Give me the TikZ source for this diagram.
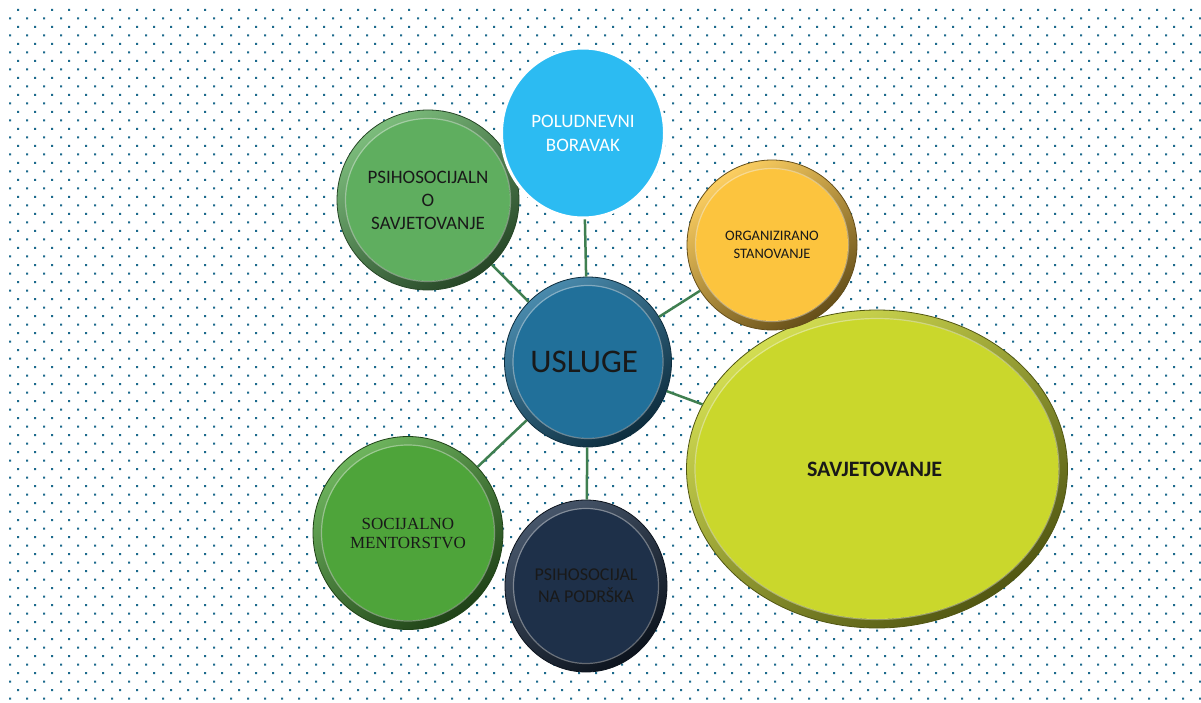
\documentclass[tikz,border=0pt]{standalone}
\usepackage{fontspec}
\setmainfont{Carlito}
\newfontfamily\serifface{Liberation Serif}
\usetikzlibrary{shapes.geometric,calc}

\definecolor{dotteal}{HTML}{1C6A8C}
\definecolor{linkgreen}{HTML}{3F7F50}
\definecolor{savjgreen}{HTML}{5FAE5F}
\definecolor{boravakblue}{HTML}{2CBBF2}
\definecolor{stangold}{HTML}{FCC43E}
\definecolor{uslugeblue}{HTML}{21709A}
\definecolor{savjlime}{HTML}{CAD72C}
\definecolor{mentorgreen}{HTML}{4EA43A}
\definecolor{podrskanavy}{HTML}{1E3049}

\tikzset{
  bubble/.style={ellipse, inner sep=0pt, align=center, text=black!90,
    top color=#1!82!white, bottom color=#1!40!black, shading angle=35,
    draw=#1!40!black, line width=0.8pt,
    path picture={
      \fill[#1] let \p1=(path picture bounding box.north east), \p2=(path picture bounding box.center)
        in (\p2) ellipse ({\x1-\x2-9pt} and {\y1-\y2-9pt});
      \draw[white, opacity=.35, line width=1.2pt] let \p1=(path picture bounding box.north east), \p2=(path picture bounding box.center)
        in (\p2) ellipse ({\x1-\x2-8.5pt} and {\y1-\y2-8.5pt});
    }},
  flatbubble/.style={ellipse, inner sep=0pt, align=center, text=white,
    fill=#1, draw=white, line width=3pt},
  link/.style={draw=linkgreen, line width=2.5pt}
}

\begin{document}
\begin{tikzpicture}[x=1pt, y=-1pt]
            \fill[white] (0, 0) rectangle (1201, 703);
            \useasboundingbox (0, 0) rectangle (1201, 703);
            % dotted paper
            \fill[dotteal] \foreach \j in {0,...,40} { \foreach \i in {0,...,69} { (17*\i+17, 17*\j+9) rectangle ++(2, 2) } };
            \fill[dotteal] \foreach \j in {0,...,40} { \foreach \i in {0,...,70} { (17*\i+9, 17*\j+17.5) rectangle ++(2, 2) } };
            % services
            \node[bubble=savjlime, minimum width=381pt, minimum height=318pt, font=\fontsize{22}{26}\selectfont\bfseries] (savjetovanje) at (877, 469) { SAVJETOVANJE };
            \node[bubble=savjgreen, minimum width=182pt, minimum height=180pt, font=\fontsize{19}{23}\selectfont] (psihosavjet) at (428, 200) { PSIHOSOCIJALN\\O\\SAVJETOVANJE };
            \node[flatbubble=boravakblue, minimum width=163pt, minimum height=170pt, font=\fontsize{19}{24}\selectfont] (boravak) at (583, 133) { POLUDNEVNI\\BORAVAK };
            \node[bubble=stangold, minimum width=170pt, minimum height=170pt, font=\fontsize{14.5}{18}\selectfont] (stanovanje) at (772, 245) { ORGANIZIRANO\\STANOVANJE };
            \node[bubble=uslugeblue, minimum width=167pt, minimum height=170pt, font=\fontsize{33}{36}\selectfont] (usluge) at (588, 362) { USLUGE };
            \node[bubble=mentorgreen, minimum width=190pt, minimum height=193pt, font=\serifface\fontsize{17}{19}\selectfont] (mentorstvo) at (408, 533) { SOCIJALNO\\MENTORSTVO };
            \node[bubble=podrskanavy, minimum width=162pt, minimum height=172pt, font=\fontsize{18}{22}\selectfont] (podrska) at (586, 586) { PSIHOSOCIJAL\\NA PODRŠKA };
            % links
            \draw[link] (usluge) -- (psihosavjet);
            \draw[link] (usluge) -- (boravak);
            \draw[link] (usluge) -- (stanovanje);
            \draw[link] (usluge) -- (savjetovanje);
            \draw[link] (usluge) -- (mentorstvo);
            \draw[link] (usluge) -- (podrska);
\end{tikzpicture}
\end{document}
